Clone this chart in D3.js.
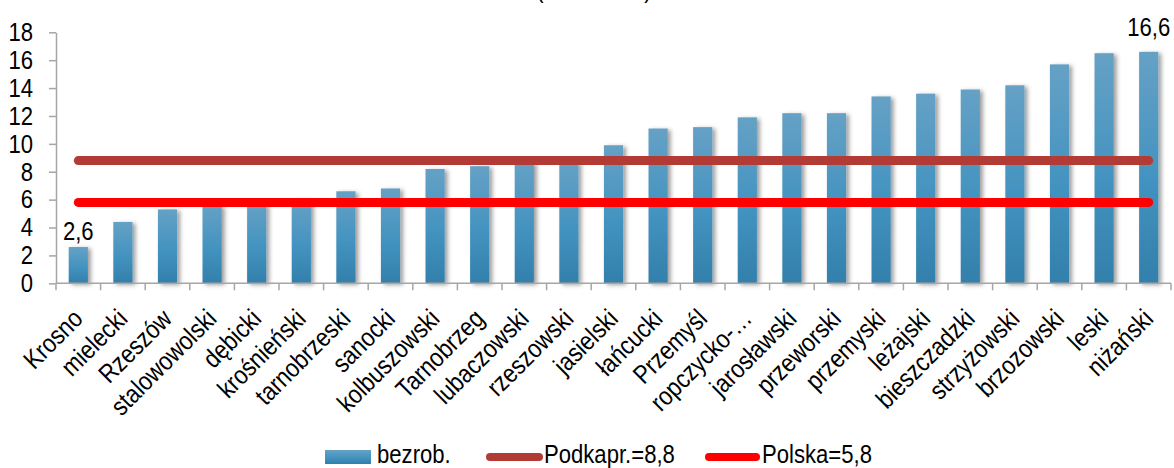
<!DOCTYPE html>
<html lang="pl">
<head>
<meta charset="utf-8">
<script src="https://cdn.jsdelivr.net/npm/d3@7"></script>
<style>
  html, body { margin: 0; padding: 0; background: #fff; }
  svg { display: block; }
  text { font-family: "Liberation Sans Narrow", "Arial Narrow", "Liberation Sans", Arial, sans-serif; fill: #000; }
</style>
</head>
<body>
<svg id="chart" width="1174" height="468"></svg>
<script>
// Stopa bezrobocia w powiatach województwa podkarpackiego (%)
const categories = ["Krosno", "mielecki", "Rzeszów", "stalowowolski", "dębicki", "krośnieński",
  "tarnobrzeski", "sanocki", "kolbuszowski", "Tarnobrzeg", "lubaczowski", "rzeszowski",
  "jasielski", "łańcucki", "Przemyśl", "ropczycko-…", "jarosławski", "przeworski",
  "przemyski", "leżajski", "bieszczadzki", "strzyżowski", "brzozowski", "leski", "niżański"];
const bezrob = [2.6, 4.4, 5.3, 5.6, 5.7, 6.0, 6.6, 6.8, 8.2, 8.4, 8.7, 8.7,
  9.9, 11.1, 11.2, 11.9, 12.2, 12.2, 13.4, 13.6, 13.9, 14.2, 15.7, 16.5, 16.6];
const podkarpacie = 8.8;
const polska = 5.8;
const yTicks = [0, 2, 4, 6, 8, 10, 12, 14, 16, 18];
const labelledBars = ["Krosno", "niżański"];
const legendItems = ["bezrob.", "Podkapr.=8,8", "Polska=5,8"];
const titleText = "(XII 2014 r.)";

const fmt = v => String(v).replace(".", ",");

// squeeze a text horizontally to imitate a narrow typeface
function condense(sel, k) {
  sel.each(function () {
    const len = this.getComputedTextLength();
    d3.select(this).attr("textLength", len * k).attr("lengthAdjust", "spacingAndGlyphs");
  });
}

const svg = d3.select("#chart");
const plot = { left: 56, right: 1171, top: 32.3, bottom: 283.3 };

const x = d3.scaleBand()
  .domain(categories)
  .range([plot.left, plot.right])
  .paddingInner(0.57)
  .paddingOuter(0.285);
const y = d3.scaleLinear().domain([0, 18]).range([plot.bottom, plot.top]);

const defs = svg.append("defs");
const grad = defs.append("linearGradient")
  .attr("id", "barFill").attr("x1", 0).attr("y1", 0).attr("x2", 0).attr("y2", 1);
grad.append("stop").attr("offset", "0%").attr("stop-color", "#66a1c5");
grad.append("stop").attr("offset", "55%").attr("stop-color", "#4393c0");
grad.append("stop").attr("offset", "100%").attr("stop-color", "#337fab");

const shadow = defs.append("filter").attr("id", "barShadow")
  .attr("x", "-50%").attr("y", "-10%").attr("width", "200%").attr("height", "130%");
shadow.append("feDropShadow")
  .attr("dx", 3).attr("dy", 1.5).attr("stdDeviation", 2.2)
  .attr("flood-color", "#000").attr("flood-opacity", 0.38);

// title (second line only partly inside the frame)
svg.append("text")
  .attr("x", 594).attr("y", -2)
  .attr("text-anchor", "middle")
  .style("font-size", "26px")
  .text(titleText)
  .call(condense, 0.85);

// bars
svg.append("g").selectAll("rect")
  .data(bezrob)
  .join("rect")
  .attr("x", (d, i) => x(categories[i]))
  .attr("y", d => y(d))
  .attr("width", x.bandwidth())
  .attr("height", d => y(0) - y(d))
  .attr("fill", "url(#barFill)")
  .attr("filter", "url(#barShadow)");

// reference lines
const xFirst = x(categories[0]) + x.bandwidth() / 2;
const xLast = x(categories[categories.length - 1]) + x.bandwidth() / 2;
const line = d3.line().x(d => d[0]).y(d => y(d[1]));
svg.append("path")
  .attr("d", line([[xFirst, podkarpacie], [xLast, podkarpacie]]))
  .attr("stroke", "#b23c35").attr("stroke-width", 9)
  .attr("stroke-linecap", "round").attr("fill", "none");
svg.append("path")
  .attr("d", line([[xFirst, polska], [xLast, polska]]))
  .attr("stroke", "#ff0000").attr("stroke-width", 9)
  .attr("stroke-linecap", "round").attr("fill", "none");

// value labels (the tallest bar's label sits a little higher)
const maxVal = d3.max(bezrob);
svg.append("g").selectAll("text")
  .data(bezrob.map((v, i) => ({ v, c: categories[i] })).filter(d => labelledBars.includes(d.c)))
  .join("text")
  .attr("x", d => x(d.c) + x.bandwidth() / 2)
  .attr("y", d => y(d.v) - (d.v === maxVal ? 16 : 7))
  .attr("text-anchor", "middle")
  .style("font-size", "26px")
  .text(d => fmt(d.v))
  .call(condense, 0.85);

// y axis
const yAxis = svg.append("g")
  .attr("transform", `translate(${plot.left},0)`)
  .call(d3.axisLeft(y).tickValues(yTicks).tickSize(7).tickSizeOuter(0).tickPadding(16));
yAxis.select(".domain").attr("stroke", "#a6a6a6").attr("stroke-width", 1.5);
yAxis.selectAll(".tick line").attr("stroke", "#a6a6a6").attr("stroke-width", 1.5);
yAxis.selectAll(".tick text")
  .style("font-size", "26px")
  .style("font-family", "'Liberation Sans Narrow', 'Arial Narrow', 'Liberation Sans', sans-serif")
  .attr("fill", "#000")
  .call(condense, 0.85);

// x axis: ticks at category boundaries
const step = x.step();
const boundaries = categories.map(c => x(c) + x.bandwidth() / 2 - step / 2)
  .concat([x(categories[categories.length - 1]) + x.bandwidth() / 2 + step / 2]);
const xAxis = svg.append("g").attr("class", "x-axis");
xAxis.append("line")
  .attr("x1", plot.left).attr("x2", boundaries[boundaries.length - 1])
  .attr("y1", y(0)).attr("y2", y(0))
  .attr("stroke", "#a6a6a6").attr("stroke-width", 1.5);
xAxis.selectAll("line.tk")
  .data(boundaries)
  .join("line")
  .attr("class", "tk")
  .attr("x1", d => d).attr("x2", d => d)
  .attr("y1", y(0)).attr("y2", y(0) + 7)
  .attr("stroke", "#a6a6a6").attr("stroke-width", 1.5);
xAxis.selectAll("text")
  .data(categories)
  .join("text")
  .attr("transform", c => `translate(${x(c) + x.bandwidth() / 2 + 6},${y(0) + 37}) rotate(-45)`)
  .attr("text-anchor", "end")
  .style("font-size", "26px")
  .text(c => c)
  .call(condense, 0.86);

// legend
const lg = svg.append("g");
lg.append("rect")
  .attr("x", 325).attr("y", 450).attr("width", 46).attr("height", 14)
  .attr("fill", "url(#barFill)");
lg.append("text").attr("x", 377).attr("y", 463).style("font-size", "26px")
  .text(legendItems[0]).call(condense, 0.85);
lg.append("line")
  .attr("x1", 490).attr("x2", 539).attr("y1", 457).attr("y2", 457)
  .attr("stroke", "#b23c35").attr("stroke-width", 8).attr("stroke-linecap", "round");
lg.append("text").attr("x", 544).attr("y", 463).style("font-size", "26px")
  .text(legendItems[1]).call(condense, 0.85);
lg.append("line")
  .attr("x1", 709).attr("x2", 756).attr("y1", 457).attr("y2", 457)
  .attr("stroke", "#ff0000").attr("stroke-width", 8).attr("stroke-linecap", "round");
lg.append("text").attr("x", 762).attr("y", 463).style("font-size", "26px")
  .text(legendItems[2]).call(condense, 0.85);
</script>
</body>
</html>
